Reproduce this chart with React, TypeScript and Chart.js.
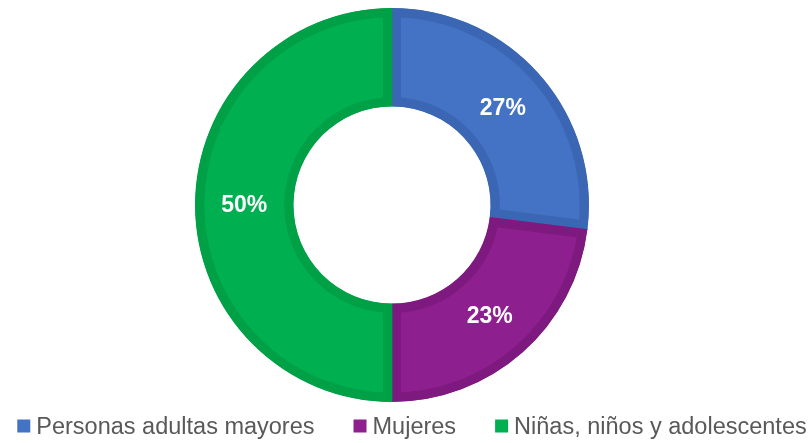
import React, { useEffect, useRef } from "react";
import { Chart, registerables } from "chart.js";

Chart.register(...registerables);

const categories = ["Personas adultas mayores", "Mujeres", "Niñas, niños y adolescentes"];
const values = [27, 23, 50];
const valueLabels = ["27%", "23%", "50%"];
const fillColors = ["#4472C4", "#8E1F8E", "#00B050"];
const edgeColors = ["#3A66B3", "#7E1A7F", "#00A046"];

const FONT = '"Liberation Sans", Arial, Helvetica, sans-serif';

const sliceLabelPlugin = {
  id: "sliceLabels",
  afterDatasetsDraw(chart: any) {
    const ctx = chart.ctx;
    const meta = chart.getDatasetMeta(0);
    ctx.save();
    ctx.fillStyle = "#FFFFFF";
    ctx.font = `bold 23px ${FONT}`;
    ctx.textAlign = "center";
    ctx.textBaseline = "middle";
    meta.data.forEach((arc: any, i: number) => {
      const p = arc.tooltipPosition();
      ctx.fillText(valueLabels[i], p.x, p.y + 1);
    });
    ctx.restore();
  },
};

const legendPlugin = {
  id: "customLegend",
  afterDraw(chart: any) {
    const ctx = chart.ctx;
    const box = 13;
    const boxGap = 6;
    const itemGap = 39;
    ctx.save();
    ctx.font = `23.5px ${FONT}`;
    ctx.textBaseline = "middle";
    ctx.textAlign = "left";
    const widths = categories.map((c) => ctx.measureText(c).width);
    const total = widths.reduce((s, w) => s + box + boxGap + w, 0) + itemGap * (categories.length - 1);
    let x = (chart.width - total) / 2 + 6;
    const cy = 426;
    categories.forEach((c, i) => {
      ctx.fillStyle = fillColors[i];
      ctx.fillRect(x, cy - box / 2, box, box);
      ctx.fillStyle = "#595959";
      ctx.fillText(c, x + box + boxGap, cy + 2);
      x += box + boxGap + widths[i] + itemGap;
    });
    ctx.restore();
  },
};

export default function App() {
  const ref = useRef<HTMLCanvasElement | null>(null);
  useEffect(() => {
    document.body.style.margin = "0";
    if (!ref.current) return;
    const chart = new Chart(ref.current, {
      type: "doughnut",
      data: {
        labels: categories,
        datasets: [
          {
            data: values,
            backgroundColor: fillColors,
            borderColor: edgeColors,
            borderWidth: 9,
            borderAlign: "inner",
            borderJoinStyle: "miter",
            hoverBorderWidth: 9,
          } as any,
        ],
      },
      options: {
        animation: false,
        responsive: false,
        cutout: "50%",
        layout: { padding: { left: 0, right: 28, top: 8, bottom: 41 } },
        plugins: {
          legend: { display: false },
          tooltip: { enabled: false },
        },
        events: [],
      },
      plugins: [sliceLabelPlugin, legendPlugin],
    });
    return () => chart.destroy();
  }, []);
  return (
    <div style={{ width: 812, height: 443 }}>
      <canvas ref={ref} width={812} height={443} style={{ display: "block" }} />
    </div>
  );
}
